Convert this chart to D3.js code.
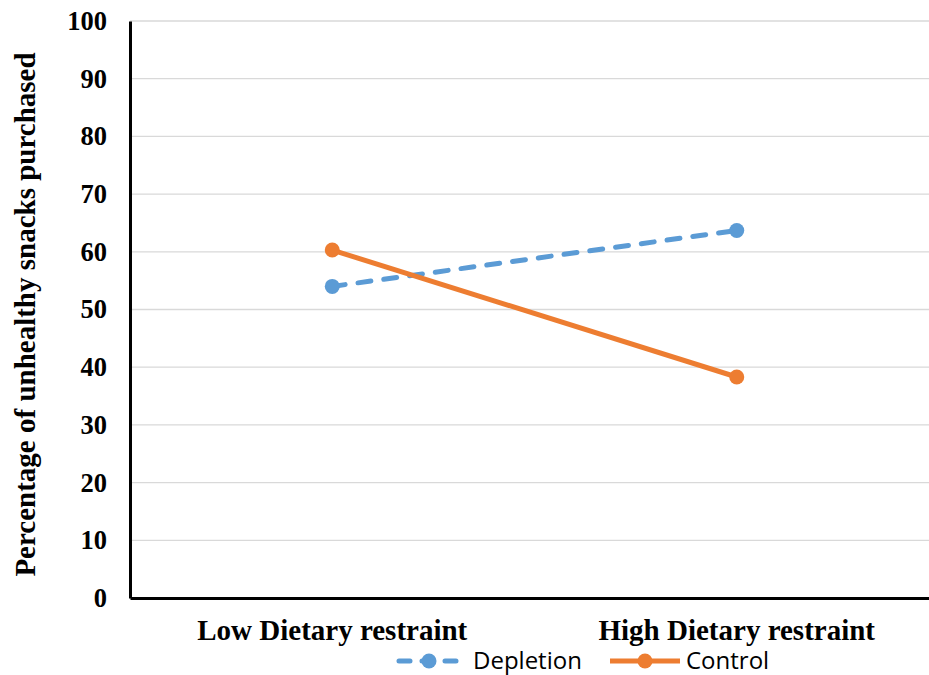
<!DOCTYPE html>
<html>
<head>
<meta charset="utf-8">
<script src="https://cdn.jsdelivr.net/npm/d3@7"></script>
<style>
  html, body { margin: 0; padding: 0; background: #fff; }
  svg { display: block; }
</style>
</head>
<body>
<svg id="chart" width="929" height="675"></svg>
<script>
// Chart data
const categories = ["Low Dietary restraint", "High Dietary restraint"];
const depletion = [54.0, 63.7];
const control = [60.3, 38.3];
const seriesNames = ["Depletion", "Control"];
const yTicks = [0, 10, 20, 30, 40, 50, 60, 70, 80, 90, 100];
const yTitle = "Percentage of unhealthy snacks purchased";

const svg = d3.select("#chart");
const margin = { left: 130, top: 21, right: -10, bottom: 77 };
const W = 929, H = 675;
const plotW = W - margin.left - margin.right;
const plotBottom = H - margin.bottom;

const x = d3.scaleBand().domain(categories).range([margin.left, margin.left + plotW]);
const y = d3.scaleLinear().domain([0, 100]).range([plotBottom, margin.top]);

const serif = "'Liberation Serif', 'Times New Roman', serif";

// Gridlines
svg.append("g")
  .selectAll("line")
  .data(yTicks.filter(d => d > 0))
  .join("line")
  .attr("x1", margin.left).attr("x2", W)
  .attr("y1", d => y(d)).attr("y2", d => y(d))
  .attr("stroke", "#d9d9d9").attr("stroke-width", 1.3);

// Y axis
const yAxis = svg.append("g")
  .attr("transform", `translate(${margin.left},0)`)
  .call(d3.axisLeft(y).tickValues(yTicks).tickSize(0).tickPadding(23));
yAxis.select(".domain").attr("stroke", "#000").attr("stroke-width", 3);
yAxis.selectAll("text")
  .attr("font-family", serif).attr("font-weight", "bold")
  .attr("font-size", 26.5).attr("fill", "#000");

// X axis
const xAxis = svg.append("g")
  .attr("transform", `translate(0,${plotBottom})`)
  .call(d3.axisBottom(x).tickSize(0).tickPadding(21));
xAxis.select(".domain").attr("stroke", "#000").attr("stroke-width", 3);
xAxis.selectAll("text")
  .attr("font-family", serif).attr("font-weight", "bold")
  .attr("font-size", 29).attr("fill", "#000");

// Y title
svg.append("text")
  .attr("transform", `translate(35,${(margin.top + plotBottom) / 2 + 5}) rotate(-90)`)
  .attr("text-anchor", "middle")
  .attr("font-family", serif).attr("font-weight", "bold")
  .attr("font-size", 29).attr("fill", "#000")
  .text(yTitle);

const cx = c => x(c) + x.bandwidth() / 2;
const line = d3.line().x((d, i) => cx(categories[i])).y(d => y(d));

const series = [
  { name: seriesNames[0], values: depletion, color: "#5b9bd5", dash: "13,13", legendDash: "11,12" },
  { name: seriesNames[1], values: control, color: "#ed7d31", dash: null, legendDash: null }
];

series.forEach(s => {
  svg.append("path")
    .datum(s.values)
    .attr("d", line)
    .attr("fill", "none")
    .attr("stroke", s.color)
    .attr("stroke-width", 5)
    .attr("stroke-linecap", s.dash ? "round" : "butt")
    .attr("stroke-dasharray", s.dash);
  svg.append("g").selectAll("circle")
    .data(s.values)
    .join("circle")
    .attr("cx", (d, i) => cx(categories[i]))
    .attr("cy", d => y(d))
    .attr("r", 7.5)
    .attr("fill", s.color);
});

// Legend
const legendY = 661;
const legendItems = [
  { s: series[0], x0: 399, x1: 459, tx: 473 },
  { s: series[1], x0: 610, x1: 680, tx: 686 }
];
legendItems.forEach(it => {
  svg.append("line")
    .attr("x1", it.x0).attr("x2", it.x1)
    .attr("y1", legendY).attr("y2", legendY)
    .attr("stroke", it.s.color).attr("stroke-width", 5)
    .attr("stroke-linecap", it.s.legendDash ? "round" : "butt")
    .attr("stroke-dasharray", it.s.legendDash);
  svg.append("circle")
    .attr("cx", (it.x0 + it.x1) / 2).attr("cy", legendY).attr("r", 7.5)
    .attr("fill", it.s.color);
  svg.append("text")
    .attr("x", it.tx).attr("y", legendY)
    .attr("dy", "0.35em")
    .attr("font-family", "'Open Sans', 'Liberation Sans', sans-serif")
    .attr("font-size", 24).attr("fill", "#000")
    .text(it.s.name);
});
</script>
</body>
</html>
